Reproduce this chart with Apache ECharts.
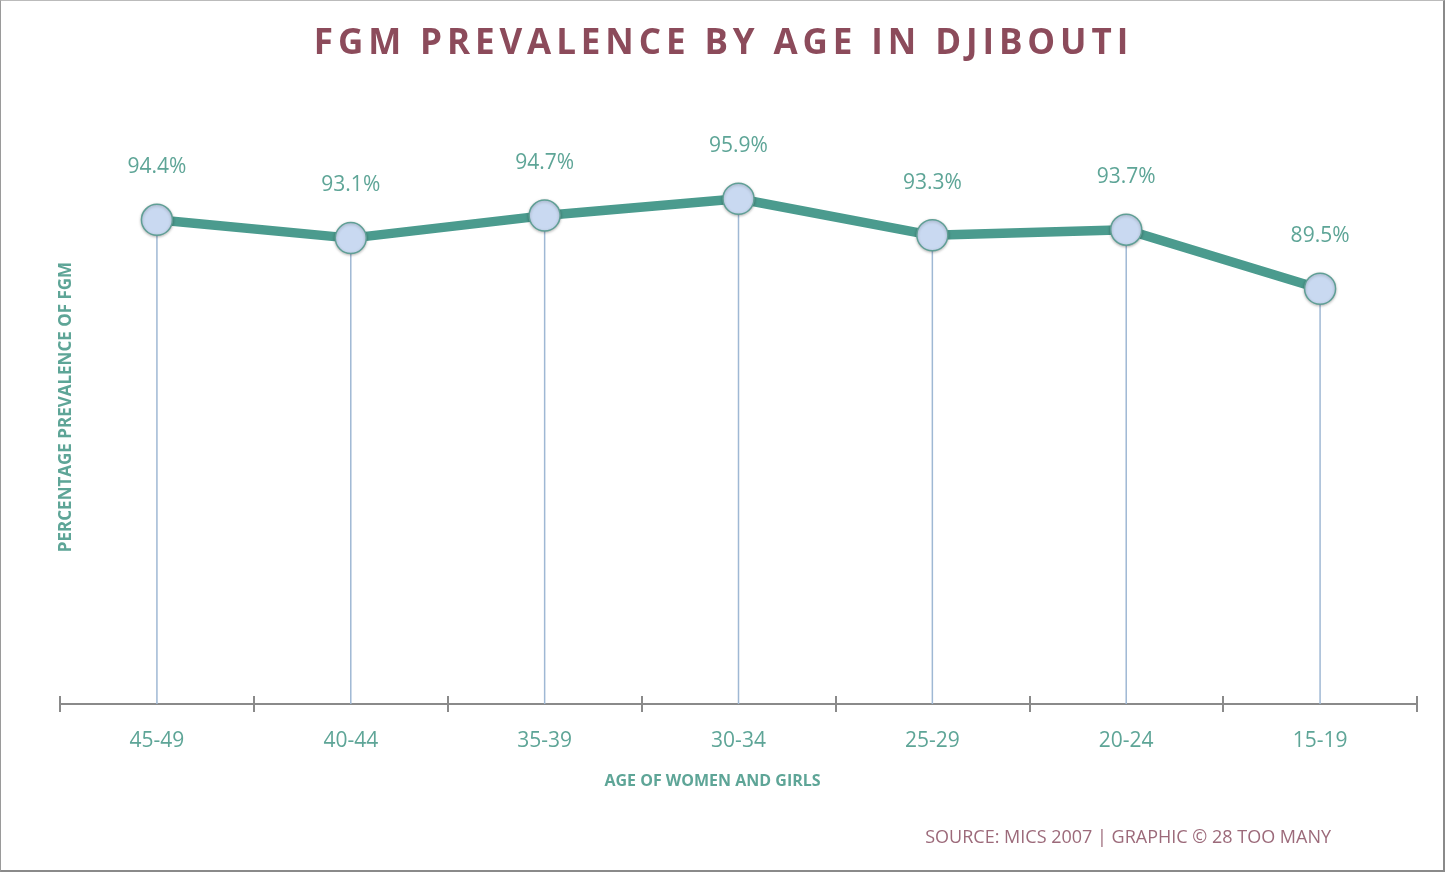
<!DOCTYPE html>
<html>
<head>
<meta charset="utf-8">
<script src="https://cdn.jsdelivr.net/npm/echarts@6/dist/echarts.min.js"></script>
<style>
html,body{margin:0;padding:0;background:#fff;}
#wrap{position:relative;width:1445px;height:872px;box-sizing:border-box;border:2px solid #8a8a8a;border-top:1px solid #bbb;border-left:1px solid #9a9a9a;}
#title{position:absolute;left:0;top:16px;width:1445px;text-align:center;font-family:"Open Sans",sans-serif;font-weight:700;font-size:35px;letter-spacing:4.9px;color:#8c4b5b;}
#chart{position:absolute;left:-1px;top:-1px;width:1445px;height:872px;}
</style>
</head>
<body>
<div id="wrap">
<div id="chart"></div>
<div id="title">FGM PREVALENCE BY AGE IN DJIBOUTI</div>
</div>
<script>
const categories = ['45-49','40-44','35-39','30-34','25-29','20-24','15-19'];
const prevalence = [94.4, 93.1, 94.7, 95.9, 93.3, 93.7, 89.5];
const yMin = 60, yMax = 100;

const teal = '#4b9b8e';
const labelTeal = '#5ea597';
const chart = echarts.init(document.getElementById('chart'));
chart.setOption({
  animation: false,
  grid: {left: 60, right: 28, top: 141, bottom: 168, containLabel: false},
  xAxis: [{
    type: 'category', data: categories, boundaryGap: true, position: 'bottom',
    axisLine: {lineStyle: {color: '#8a8a8a', width: 2}},
    axisTick: {show: true, inside: true, length: 8, lineStyle: {color: '#8a8a8a', width: 2}},
    axisLabel: {color: labelTeal, fontFamily: 'Open Sans', fontSize: 21, margin: 27},
    name: 'AGE OF WOMEN AND GIRLS', nameLocation: 'middle', nameGap: 69,
    nameTextStyle: {color: labelTeal, fontFamily: 'Open Sans', fontWeight: 'bold', fontSize: 16, padding: [0, 52, 0, 0]}
  }, {
    type: 'category', data: categories, boundaryGap: true, position: 'bottom', offset: 0,
    axisLine: {show: false},
    axisTick: {show: true, inside: false, length: 8, lineStyle: {color: '#8a8a8a', width: 2}},
    axisLabel: {show: false}
  }],
  yAxis: {type: 'value', min: yMin, max: yMax, show: false},
  graphic: [{
    type: 'text', x: 66, y: 407, rotation: Math.PI / 2, originX: 0, originY: 0,
    style: {text: 'PERCENTAGE PREVALENCE OF FGM', fill: labelTeal, font: 'bold 17px "Open Sans"', textAlign: 'center', textVerticalAlign: 'middle'}
  }, {
    type: 'text', right: 114, top: 829,
    style: {text: 'SOURCE: MICS 2007 | GRAPHIC \u00A9 28 TOO MANY', fill: '#9c6a7a', font: '18px "Open Sans"'}
  }],
  series: [{
    type: 'bar', data: prevalence, barWidth: 1.5, silent: true, z: 1,
    itemStyle: {color: '#9fb8d4'}
  }, {
    type: 'line', data: prevalence, z: 3,
    lineStyle: {color: teal, width: 9.5},
    symbol: 'circle', symbolSize: 31,
    itemStyle: {color: '#c9d9f1', borderColor: '#5f9f95', borderWidth: 1.5, shadowColor: 'rgba(0,0,0,0.25)', shadowBlur: 3, shadowOffsetY: 1},
    label: {show: true, position: 'top', distance: 26, formatter: p => p.value.toFixed(1) + '%', color: labelTeal, fontFamily: 'Open Sans', fontSize: 21}
  }]
});
</script>
</body>
</html>
